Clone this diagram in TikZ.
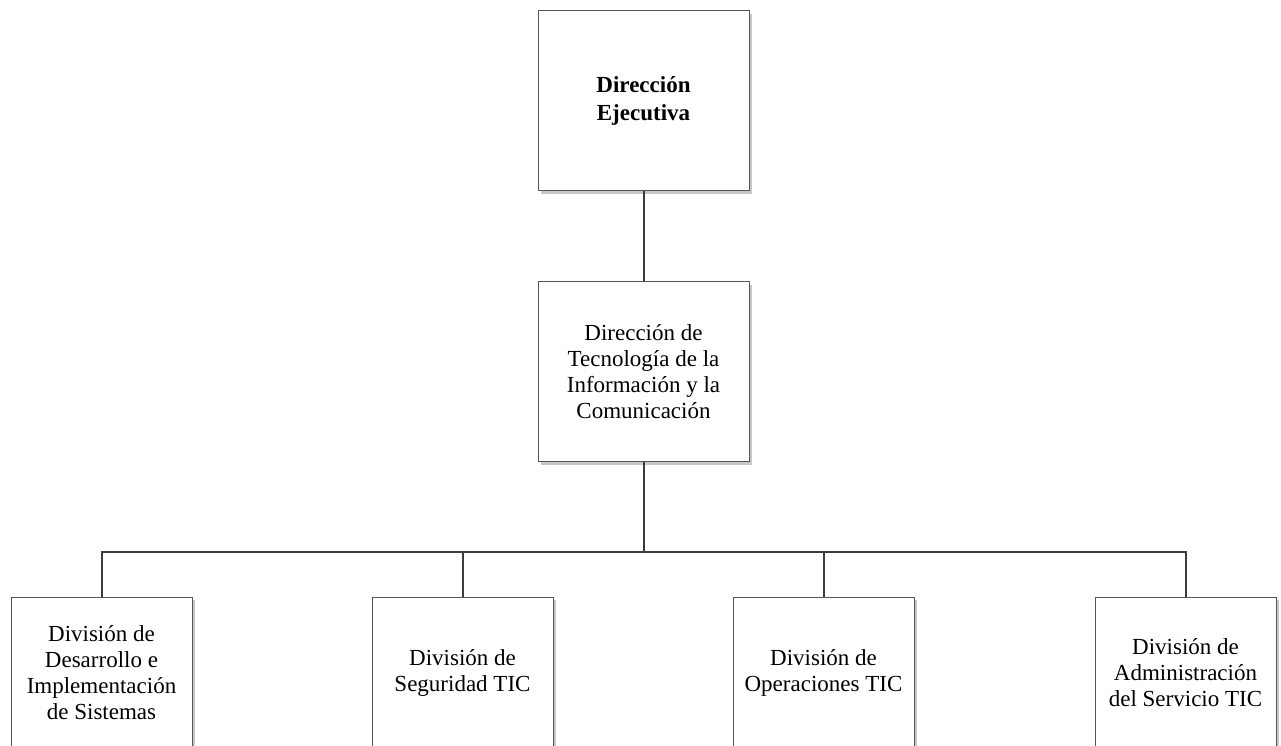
\documentclass[tikz,border=0pt]{standalone}
\usepackage{fontspec}
\setmainfont{Liberation Serif}
\usetikzlibrary{shadows}
\definecolor{linec}{HTML}{3C3C3C}
\definecolor{boxc}{HTML}{555555}
\tikzset{
  orgbox/.style={draw=boxc, line width=0.9pt, fill=white, align=center,
    font=\fontsize{23}{26}\selectfont, inner sep=0pt,
    drop shadow={shadow xshift=3pt, shadow yshift=-3pt, fill=black!22, opacity=1}},
  bigbox/.style={orgbox, minimum width=211pt, minimum height=180pt},
  divbox/.style={orgbox, minimum width=181pt, minimum height=151pt},
  conn/.style={draw=linec, line width=2pt}
}
\begin{document}
\begin{tikzpicture}[x=1pt,y=-1pt]
\useasboundingbox (0,0) rectangle (1281,745);
\node[bigbox, font=\fontsize{23}{28}\selectfont\bfseries] (dir) at (643.5,100.5) {Dirección\\Ejecutiva};
\node[bigbox] (tic) at (643.5,371.5) {Dirección de\\Tecnología de la\\Información y la\\Comunicación};
\node[divbox] (d1) at (101.5,672.5) {División de\\Desarrollo e\\Implementación\\de Sistemas};
\node[divbox] (d2) at (462.5,672.5) {División de\\Seguridad TIC};
\node[divbox] (d3) at (823.5,672.5) {División de\\Operaciones TIC};
\node[divbox] (d4) at (1185.5,672.5) {División de\\Administración\\del Servicio TIC};
\coordinate (bus) at (643.5,552);
\draw[conn] (dir.south) -- (tic.north);
\draw[conn] (tic.south) -- (bus);
\draw[conn] (d1.north) |- (bus);
\draw[conn] (d2.north) |- (bus);
\draw[conn] (d3.north) |- (bus);
\draw[conn] (d4.north) |- (bus);
\end{tikzpicture}
\end{document}
